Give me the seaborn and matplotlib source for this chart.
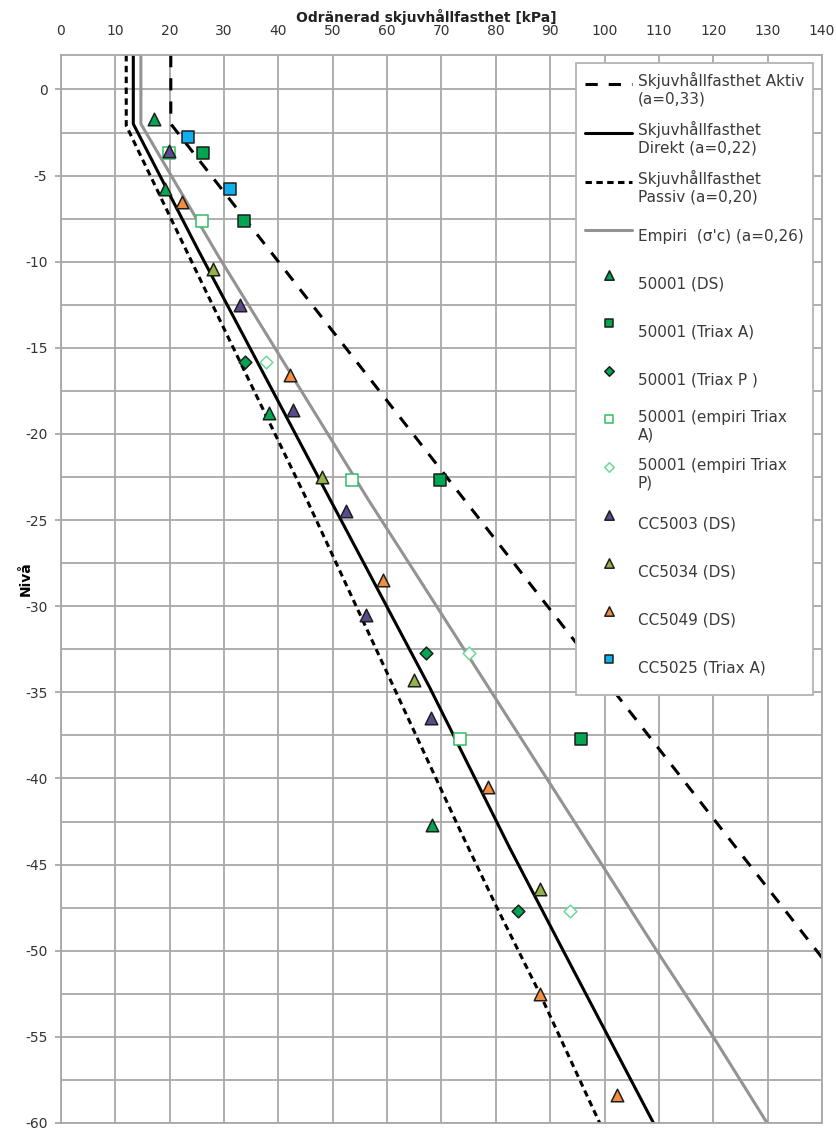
import numpy as np
import pandas as pd
import matplotlib
matplotlib.use("Agg")
import matplotlib.pyplot as plt
import seaborn as sns

# ---------------- data (x = kPa, y = level) ----------------
aktiv_x = [20.2, 20.2, 140.0]
aktiv_y = [2.0, -2.0, -50.4]

direkt_x = [13.3, 13.3, 25.2, 49.5, 67.8, 82.5, 92.4, 100.7, 109.0]
direkt_y = [2.0, -2.0, -9.3, -23.8, -34.7, -44.0, -50.0, -55.0, -60.0]

passiv_x = [12.0, 12.0, 27.4, 45.2, 73.4, 80.2, 88.1, 99.1]
passiv_y = [2.0, -2.1, -12.2, -23.8, -43.0, -47.5, -52.5, -60.0]

empiri_x = [14.7, 14.7, 29.0, 56.5, 62.4, 99.5, 109.6, 120.0, 129.9]
empiri_y = [2.0, -2.0, -9.7, -23.8, -26.7, -45.0, -50.0, -55.0, -60.0]

ds50001_x = [17.2, 19.1, 38.3, 68.2]
ds50001_y = [-1.74, -5.8, -18.8, -42.7]

triaxA50001_x = [26.1, 33.7, 69.7, 95.7]
triaxA50001_y = [-3.68, -7.65, -22.7, -37.7]

triaxP50001_x = [33.9, 67.2, 84.1]
triaxP50001_y = [-15.8, -32.7, -47.7]

empA50001_x = [19.9, 26.0, 53.5, 73.4]
empA50001_y = [-3.68, -7.65, -22.7, -37.7]

empP50001_x = [37.8, 75.0, 93.7]
empP50001_y = [-15.8, -32.7, -47.7]

cc5003_x = [19.8, 32.9, 42.6, 52.4, 56.1, 68.1]
cc5003_y = [-3.58, -12.5, -18.6, -24.5, -30.5, -36.5]

cc5034_x = [28.0, 48.1, 65.0, 88.1]
cc5034_y = [-10.45, -22.5, -34.3, -46.4]

cc5049_x = [22.2, 42.1, 59.2, 78.6, 88.1, 102.3]
cc5049_y = [-6.52, -16.55, -28.5, -40.5, -52.5, -58.4]

cc5025_x = [23.3, 31.0]
cc5025_y = [-2.77, -5.8]

x_ticks = list(range(0, 141, 10))
y_ticks = list(range(-60, 1, 5))

line_labels = ["Skjuvhållfasthet Aktiv\n(a=0,33)",
               "Skjuvhållfasthet\nDirekt (a=0,22)",
               "Skjuvhållfasthet\nPassiv (a=0,20)",
               "Empiri  (σ'c) (a=0,26)"]
point_labels = ["50001 (DS)", "50001 (Triax A)", "50001 (Triax P )",
                "50001 (empiri Triax\nA)", "50001 (empiri Triax\nP)",
                "CC5003 (DS)", "CC5034 (DS)", "CC5049 (DS)", "CC5025 (Triax A)"]

# ---------------- figure ----------------
sns.set_theme(style="white")
plt.rcParams['font.family'] = ['DejaVu Sans']
plt.rcParams['axes.unicode_minus'] = False

W, H = 837, 1130
fig = plt.figure(figsize=(W / 100, H / 100), dpi=100)
ax_l, ax_r, ax_t, ax_b = 61, 822, 55, 1123
ax = fig.add_axes([ax_l / W, 1 - ax_b / H, (ax_r - ax_l) / W, (ax_b - ax_t) / H])

# lines
sns.lineplot(x=aktiv_x, y=aktiv_y, sort=False, estimator=None, ax=ax, color='black',
             lw=2.2, linestyle=(0, (4.0, 3.6)), label=line_labels[0], zorder=2)
sns.lineplot(x=direkt_x, y=direkt_y, sort=False, estimator=None, ax=ax, color='black',
             lw=2.2, label=line_labels[1], zorder=2)
sns.lineplot(x=passiv_x, y=passiv_y, sort=False, estimator=None, ax=ax, color='black',
             lw=2.2, linestyle=(0, (2.1, 1.45)), label=line_labels[2], zorder=2)
sns.lineplot(x=empiri_x, y=empiri_y, sort=False, estimator=None, ax=ax, color='#939393',
             lw=2.2, label=line_labels[3], zorder=2)

edge = '#1e1e1e'
pts = [
    (ds50001_x, ds50001_y, '^', '#00a650', edge, 81),
    (triaxA50001_x, triaxA50001_y, 's', '#00a650', edge, 72),
    (triaxP50001_x, triaxP50001_y, 'D', '#00a650', edge, 42),
    (empA50001_x, empA50001_y, 's', 'white', '#2fbf5f', 72),
    (empP50001_x, empP50001_y, 'D', 'white', '#6ed89a', 42),
    (cc5003_x, cc5003_y, '^', '#5b4a8c', edge, 81),
    (cc5034_x, cc5034_y, '^', '#93b24a', edge, 81),
    (cc5049_x, cc5049_y, '^', '#f58d3e', edge, 81),
    (cc5025_x, cc5025_y, 's', '#10b0ee', edge, 72),
]
for (xs, ys, mk, fc, ec, s), lab in zip(pts, point_labels):
    sns.scatterplot(x=xs, y=ys, marker=mk, s=s, color=fc, edgecolor=ec,
                    linewidth=1.1, ax=ax, label=lab, zorder=3)

# axes
ax.set_xlim(0, 140)
ax.set_ylim(-60, 2)
ax.set_xticks(x_ticks)
ax.set_yticks(y_ticks)
ax.set_yticks(np.arange(-57.5, 0, 5), minor=True)
gc = '#a8a8a8'
ax.grid(True, which='major', color=gc, lw=1.3)
ax.grid(True, which='minor', axis='y', color=gc, lw=1.3)
ax.set_axisbelow(True)
for sp in ax.spines.values():
    sp.set_visible(True)
    sp.set_color(gc)
    sp.set_linewidth(1.3)

ax.xaxis.tick_top()
ax.tick_params(axis='x', which='both', length=0, pad=12, labelsize=10, labelcolor='#333333',
               top=True, bottom=False, labeltop=True, labelbottom=False)
ax.tick_params(axis='y', which='major', length=4.3, width=1.3, color=gc, direction='out',
               pad=5.5, labelsize=10, labelcolor='#333333', left=True)
ax.tick_params(axis='y', which='minor', length=0)

ax.xaxis.set_label_position('top')
ax.set_xlabel("Odränerad skjuvhållfasthet [kPa]", fontsize=10, fontweight='bold', color='#222222')
ax.xaxis.set_label_coords(0.48, 1 + (ax_t - 22) / (ax_b - ax_t))
ax.set_ylabel("Nivå", fontsize=10, fontweight='bold', color='black')
ax.yaxis.set_label_coords(-(ax_l - 33) / (ax_r - ax_l), 0.51)

handles, labels = ax.get_legend_handles_labels()
leg = ax.legend(handles, labels, loc='upper right',
                bbox_to_anchor=(1 - 9 / (ax_r - ax_l), 1 - 8 / (ax_b - ax_t)),
                borderaxespad=0, frameon=True, fancybox=False, framealpha=1,
                edgecolor='#b4b4b4', fontsize=11, handlelength=3.1, handleheight=3.25,
                labelspacing=0.78, handletextpad=0.35, borderpad=0.6, markerscale=0.75,
                labelcolor='#3a3a3a')
leg.get_frame().set_linewidth(1.3)

fig.savefig("out.png", dpi=100)
